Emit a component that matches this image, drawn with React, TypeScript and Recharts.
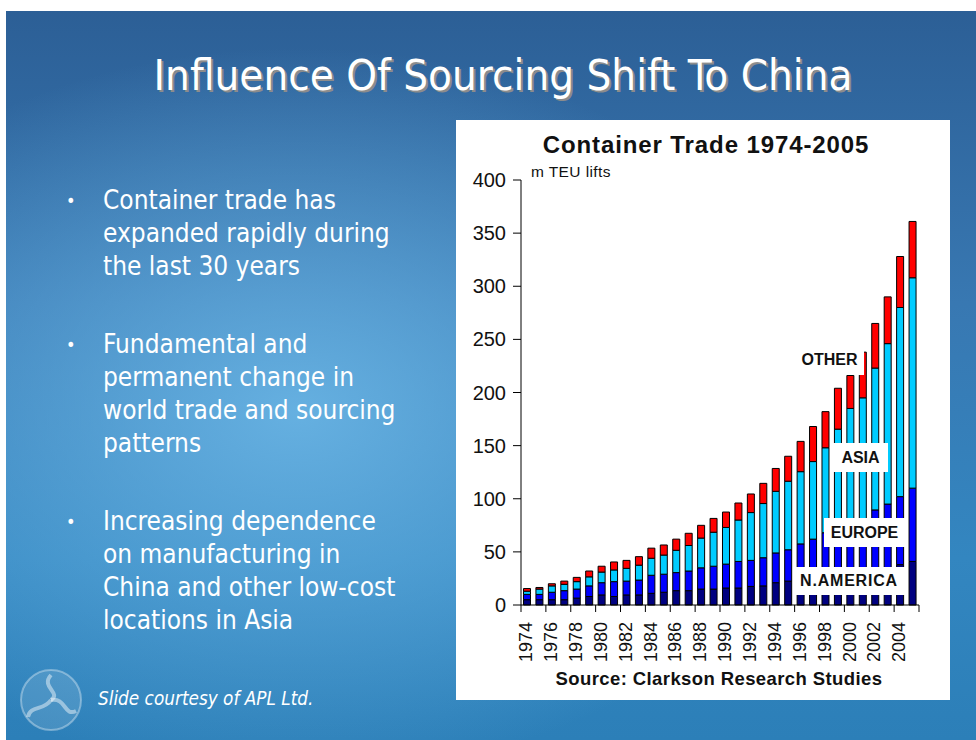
import React from 'react'
import { BarChart, Bar, XAxis, YAxis } from 'recharts'

// m TEU lifts, segments stacked bottom to top
const years = [
  '1974', '1975', '1976', '1977', '1978', '1979', '1980', '1981', '1982', '1983', '1984',
  '1985', '1986', '1987', '1988', '1989', '1990', '1991', '1992', '1993', '1994', '1995',
  '1996', '1997', '1998', '1999', '2000', '2001', '2002', '2003', '2004', '2005',
]
const nAmerica = [5, 5, 5, 5, 6.5, 8, 9.5, 8, 9.5, 9.5, 11, 12, 13.5, 13.5, 15, 15, 16, 16, 17.5, 18, 21, 22.5, 23, 24, 25, 27, 29, 31, 33, 35, 38, 41]
const europe = [5, 5, 7, 8.5, 8.5, 10, 11.5, 14, 13, 14, 17, 17, 17, 18.5, 20, 21.5, 22.5, 25, 24.5, 26.5, 28, 29.5, 34.5, 38, 43, 45, 48, 50, 56.5, 60, 64, 69]
const asia = [3, 5, 6, 6, 7, 8.5, 10, 11, 12, 14, 16, 18, 21, 24, 28, 32, 34.5, 39, 45, 51, 58, 64.5, 68, 73, 80, 93.5, 108, 114, 133.5, 151, 178, 198]
const other = [2.5, 1.5, 2, 3, 4, 5.5, 5.5, 7.5, 7.5, 8, 9.5, 9.5, 10.5, 11.5, 12, 13, 14.5, 16, 17.5, 19, 21.5, 23.5, 28.5, 33, 34, 38.5, 31, 43, 42, 44, 48, 53]
const yTicks = [0, 50, 100, 150, 200, 250, 300, 350, 400]

const bullets = [
  ['Container trade has', 'expanded rapidly during', 'the last 30 years'],
  ['Fundamental and', 'permanent change in', 'world trade and sourcing', 'patterns'],
  ['Increasing dependence', 'on manufacturing in', 'China and other low-cost', 'locations in Asia'],
]

const data = years.map((year, i) => ({
  year,
  nAmerica: nAmerica[i],
  europe: europe[i],
  asia: asia[i],
  other: other[i],
}))

const CHART_W = 494
const CHART_H = 580
const Y_AXIS_W = 65
const MARGIN = { top: 60, right: 31, bottom: 35, left: 0 }
const PLOT_W = CHART_W - Y_AXIS_W - MARGIN.left - MARGIN.right
const BAND = PLOT_W / years.length

const XTick = (props: any) => {
  const { x, y, payload } = props
  const left = x - BAND / 2
  const ty = y + 17
  return (
    <g>
      <line x1={left} y1={y} x2={left} y2={y + 7} stroke="#000" />
      {payload.value === '2004' && (
        <line x1={x + BAND * 1.5} y1={y} x2={x + BAND * 1.5} y2={y + 7} stroke="#000" />
      )}
      <text
        x={x - 1}
        y={ty}
        transform={`rotate(-90 ${x - 1} ${ty})`}
        textAnchor="end"
        dominantBaseline="central"
        fontSize={18}
        fill="#111"
      >
        {payload.value}
      </text>
    </g>
  )
}

const tag = (text: string, left: number, top: number, w: number, h: number, spacing = 0) => (
  <div
    style={{
      position: 'absolute', left, top, width: w, height: h, background: '#fff',
      display: 'flex', alignItems: 'center', justifyContent: 'center',
      fontFamily: '"Liberation Sans", Arial, sans-serif', fontWeight: 'bold',
      fontSize: 16, color: '#111', letterSpacing: spacing,
    }}
  >
    {text}
  </div>
)

export default function App() {
  const slideFont = '"DejaVu Sans Condensed", "DejaVu Sans", sans-serif'
  return (
    <div style={{ position: 'fixed', left: 0, top: 0, width: 976, height: 740, background: '#fff', overflow: 'hidden' }}>
      <div
        style={{
          position: 'absolute', left: 6, top: 11, right: 0, bottom: 0,
          background:
            'radial-gradient(ellipse 55% 50% at 30% 55%, rgba(110,185,232,0.85) 0%, rgba(110,185,232,0) 100%),' +
            'linear-gradient(180deg, #2c5f96 0%, #3878b2 40%, #3386c0 75%, #2c7fb8 100%)',
        }}
      />

      <div
        style={{
          position: 'absolute', left: 0, width: 1006, top: 50, textAlign: 'center',
          fontFamily: slideFont, fontSize: 43.5, color: '#fff',
          textShadow: '2px 2px 0 #8c8c8c',
        }}
      >
        Influence Of Sourcing Shift To China
      </div>

      {bullets.map((lines, bi) => (
        <div
          key={bi}
          style={{
            position: 'absolute', left: 66, top: [184, 328, 505][bi],
            fontFamily: slideFont, fontSize: 26, lineHeight: '33px', color: '#fff',
          }}
        >
          <span style={{ position: 'absolute', left: 0, top: 0, fontSize: 18 }}>•</span>
          <div style={{ marginLeft: 37 }}>
            {lines.map((l, li) => (
              <div key={li}>{l}</div>
            ))}
          </div>
        </div>
      ))}

      <svg style={{ position: 'absolute', left: 18, top: 667 }} width={66} height={66}>
        <circle cx={33} cy={33} r={30} fill="rgba(255,255,255,0.12)" stroke="rgba(255,255,255,0.35)" strokeWidth={2} />
        <path d="M33 8 C22 20 44 26 33 33" stroke="rgba(255,255,255,0.45)" strokeWidth={4} fill="none" />
        <path d="M33 33 C48 30 46 50 58 44" stroke="rgba(255,255,255,0.45)" strokeWidth={4} fill="none" />
        <path d="M33 33 C26 44 12 38 10 50" stroke="rgba(255,255,255,0.45)" strokeWidth={4} fill="none" />
      </svg>
      <div
        style={{
          position: 'absolute', left: 98, top: 688, fontFamily: slideFont,
          fontStyle: 'italic', fontSize: 18.8, color: '#fff',
        }}
      >
        Slide courtesy of APL Ltd.
      </div>

      <div
        style={{
          position: 'absolute', left: 456, top: 120, width: CHART_W, height: CHART_H,
          background: '#fff', fontFamily: '"Liberation Sans", Arial, sans-serif',
        }}
      >
        <BarChart width={CHART_W} height={CHART_H} data={data} margin={MARGIN} barCategoryGap="20%">
          <XAxis
            dataKey="year"
            interval={1}
            tickLine={false}
            tickSize={0}
            tickMargin={0}
            height={60}
            axisLine={{ stroke: '#000' }}
            tick={(p: any) => <XTick {...p} />}
          />
          <YAxis
            width={Y_AXIS_W}
            domain={[0, 400]}
            ticks={yTicks}
            tickSize={8}
            tickMargin={7}
            axisLine={{ stroke: '#000' }}
            tickLine={{ stroke: '#000' }}
            tick={{ fontSize: 20, fill: '#111' }}
          />
          <Bar dataKey="nAmerica" stackId="a" fill="#000080" stroke="#000" strokeWidth={1} isAnimationActive={false} />
          <Bar dataKey="europe" stackId="a" fill="#0000ff" stroke="#000" strokeWidth={1} isAnimationActive={false} />
          <Bar dataKey="asia" stackId="a" fill="#00ccff" stroke="#000" strokeWidth={1} isAnimationActive={false} />
          <Bar dataKey="other" stackId="a" fill="#ff0000" stroke="#000" strokeWidth={1} isAnimationActive={false} />
        </BarChart>

        <div
          style={{
            position: 'absolute', left: 0, width: 500, top: 11, textAlign: 'center',
            fontWeight: 'bold', fontSize: 24, letterSpacing: 0.9, color: '#111',
          }}
        >
          Container Trade 1974-2005
        </div>
        <div style={{ position: 'absolute', left: 75, top: 43, fontSize: 15.5, letterSpacing: 0.4, color: '#111' }}>m TEU lifts</div>
        <div
          style={{
            position: 'absolute', left: 0, width: 526, top: 548, textAlign: 'center',
            fontWeight: 'bold', fontSize: 18.5, color: '#111', letterSpacing: 0.4,
          }}
        >
          Source: Clarkson Research Studies
        </div>
      </div>

      {tag('OTHER', 795, 345, 69, 30)}
      {tag('ASIA', 833, 443, 55, 29)}
      {tag('EUROPE', 824, 518, 81, 29)}
      {tag('N.AMERICA', 793, 567, 112, 28, 0.8)}
    </div>
  )
}
